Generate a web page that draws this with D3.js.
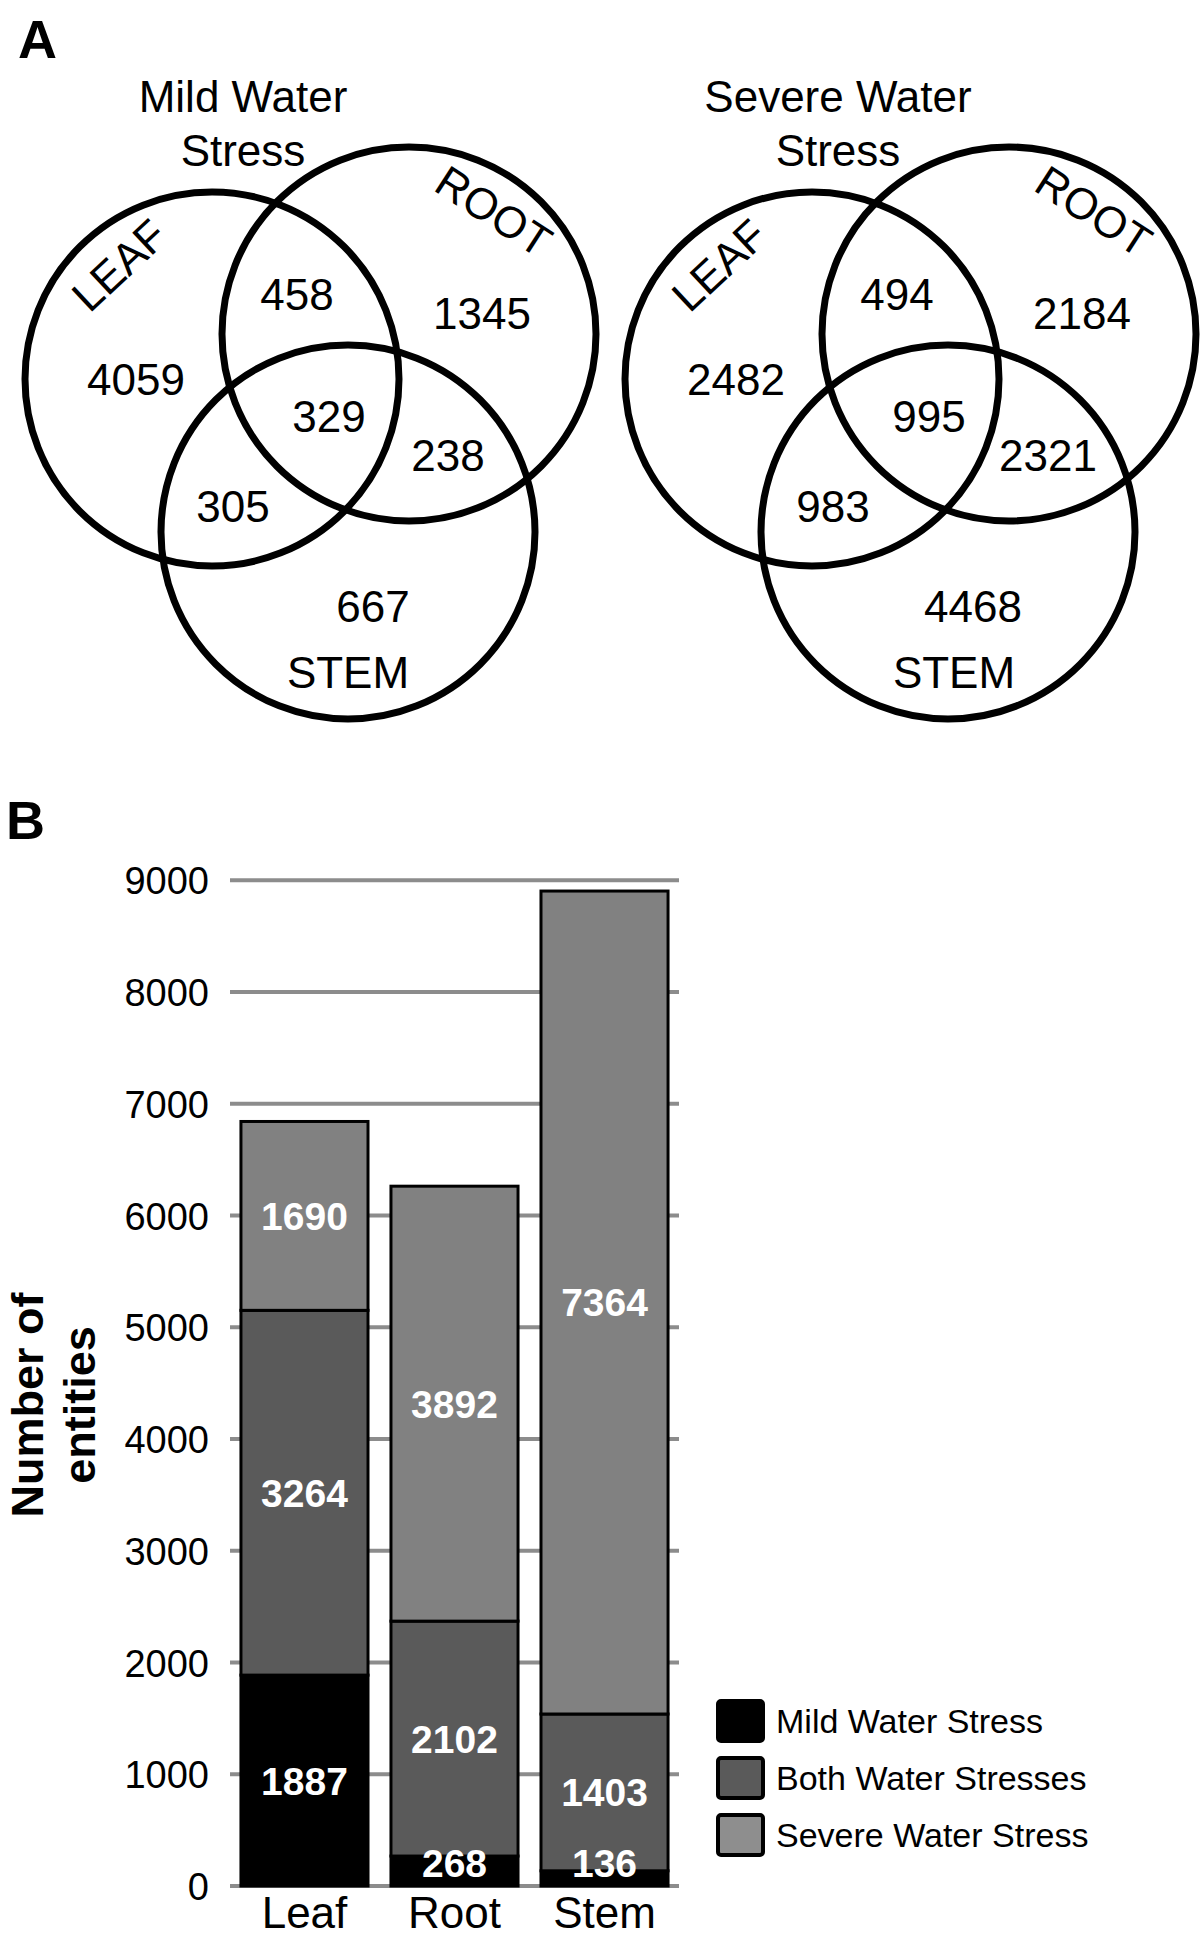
<!DOCTYPE html>
<html>
<head>
<meta charset="utf-8">
<script src="https://cdn.jsdelivr.net/npm/d3@7/dist/d3.min.js"></script>
<style>
  html, body { margin: 0; padding: 0; background: #fff; }
  svg { display: block; font-family: "Liberation Sans", Arial, Helvetica, sans-serif; }
</style>
</head>
<body>
<svg id="chart" width="1200" height="1939"></svg>
<script>
// ---------------- DATA ----------------
const vennTitles = [["Mild Water", "Stress"], ["Severe Water", "Stress"]];
const vennSetLabels = ["LEAF", "ROOT", "STEM"];
const vennRegions = ["Leaf only", "Leaf & Root", "Root only", "All three", "Root & Stem", "Leaf & Stem", "Stem only"];
const mildCounts = [4059, 458, 1345, 329, 238, 305, 667];
const severeCounts = [2482, 494, 2184, 995, 2321, 983, 4468];

const tissues = ["Leaf", "Root", "Stem"];
const seriesNames = ["Mild Water Stress", "Both Water Stresses", "Severe Water Stress"];
const mildOnly = [1887, 268, 136];
const bothStresses = [3264, 2102, 1403];
const severeOnly = [1690, 3892, 7364];
const yTicks = [0, 1000, 2000, 3000, 4000, 5000, 6000, 7000, 8000, 9000];

// ---------------- LAYOUT ----------------
const svg = d3.select("#chart");
const FONT = '"Liberation Sans", Arial, Helvetica, sans-serif';

// Panel letters
svg.append("text").attr("x", 18).attr("y", 58).attr("font-size", 54).attr("font-weight", "bold").text("A");
svg.append("text").attr("x", 6).attr("y", 839).attr("font-size", 54).attr("font-weight", "bold").text("B");

// ---------------- VENN DIAGRAMS ----------------
const circleLayout = [ {cx: 212, cy: 379}, {cx: 409, cy: 334}, {cx: 348, cy: 532} ];
const R = 187;
const regionPos = [
  [136, 379], [297, 294], [482, 313], [329, 416], [448, 455], [233, 506], [373, 606]
];
const panels = [
  {dx: 0, counts: mildCounts, title: vennTitles[0], titleX: 243, stemX: 348},
  {dx: 600, counts: severeCounts, title: vennTitles[1], titleX: 238, stemX: 354}
];

panels.forEach(p => {
  const g = svg.append("g").attr("transform", `translate(${p.dx},0)`);
  p.title.forEach((line, i) => {
    g.append("text").attr("x", p.titleX).attr("y", 112 + i * 54)
      .attr("text-anchor", "middle").attr("font-size", 44).text(line);
  });
  g.selectAll("circle").data(circleLayout).join("circle")
    .attr("cx", d => d.cx).attr("cy", d => d.cy).attr("r", R)
    .attr("fill", "none").attr("stroke", "#000").attr("stroke-width", 7);
  g.selectAll("text.count").data(p.counts).join("text").attr("class", "count")
    .attr("x", (d, i) => regionPos[i][0]).attr("y", (d, i) => regionPos[i][1])
    .attr("dy", "0.358em").attr("text-anchor", "middle").attr("font-size", 44)
    .text(d => d);
  g.append("text").attr("transform", "translate(119,265) rotate(-43)")
    .attr("dy", "0.358em").attr("text-anchor", "middle").attr("font-size", 44).text(vennSetLabels[0]);
  g.append("text").attr("transform", "translate(494,211) rotate(33)")
    .attr("dy", "0.358em").attr("text-anchor", "middle").attr("font-size", 44).text(vennSetLabels[1]);
  g.append("text").attr("x", p.stemX).attr("y", 672).attr("dy", "0.358em")
    .attr("text-anchor", "middle").attr("font-size", 44).text(vennSetLabels[2]);
});

// ---------------- STACKED BAR CHART ----------------
const x = d3.scaleBand().domain(tissues).range([230, 679]).paddingInner(0.153).paddingOuter(0.073);
const y = d3.scaleLinear().domain([0, 9000]).range([1886, 880.2]);

const barColors = ["#000000", "#5a5a5a", "#818181"];
const legendColors = ["#000000", "#5a5a5a", "#8e8e8e"];

// gridlines
svg.append("g").selectAll("line").data(yTicks).join("line")
  .attr("x1", 230).attr("x2", 679)
  .attr("y1", d => y(d)).attr("y2", d => y(d))
  .attr("stroke", "#8c8c8c").attr("stroke-width", 4);

// y axis labels
const yAxis = d3.axisLeft(y).tickValues(yTicks).tickSize(0).tickPadding(0).tickFormat(d3.format("d"));
const yg = svg.append("g").attr("transform", "translate(209,0)").call(yAxis);
yg.select(".domain").remove();
yg.selectAll("text").attr("font-size", 38).attr("font-family", FONT).attr("fill", "#000")
  .attr("dy", "0.358em");

// stack
const rows = tissues.map((t, i) => ({tissue: t, mild: mildOnly[i], both: bothStresses[i], severe: severeOnly[i]}));
const keys = ["mild", "both", "severe"];
const stacked = d3.stack().keys(keys)(rows);

const layers = svg.append("g").selectAll("g").data(stacked).join("g")
  .attr("fill", (d, i) => barColors[i]);
layers.selectAll("rect").data(d => d).join("rect")
  .attr("x", d => x(d.data.tissue))
  .attr("width", x.bandwidth())
  .attr("y", d => y(d[1]))
  .attr("height", d => y(d[0]) - y(d[1]))
  .attr("stroke", "#000").attr("stroke-width", 3);

// value labels
const labelG = svg.append("g");
stacked.forEach((layer, li) => {
  layer.forEach(d => {
    const mid = (d[0] + d[1]) / 2;
    const cy = Math.min(y(mid), y(0) - 23);
    labelG.append("text")
      .attr("x", x(d.data.tissue) + x.bandwidth() / 2)
      .attr("y", cy).attr("dy", "0.358em")
      .attr("text-anchor", "middle").attr("font-size", 39).attr("font-weight", "bold")
      .attr("fill", "#fff").text(d.data[keys[li]]);
  });
});

// x axis labels
const xAxis = d3.axisBottom(x).tickSize(0).tickPadding(0);
const xg = svg.append("g").attr("transform", "translate(0,1886)").call(xAxis);
xg.select(".domain").remove();
xg.selectAll("text").attr("font-size", 44).attr("font-family", FONT).attr("fill", "#000")
  .attr("dy", null).attr("y", 42);

// y title
const yt = svg.append("text").attr("transform", "translate(43,1405) rotate(-90)")
  .attr("text-anchor", "middle").attr("font-size", 45).attr("font-weight", "bold");
yt.append("tspan").attr("x", 0).attr("y", 0).text("Number of");
yt.append("tspan").attr("x", 0).attr("y", 52).text("entities");

// legend
const lg = svg.append("g").selectAll("g").data(seriesNames).join("g")
  .attr("transform", (d, i) => `translate(718,${1701 + i * 57})`);
lg.append("rect").attr("width", 45).attr("height", 40).attr("rx", 3)
  .attr("fill", (d, i) => legendColors[i]).attr("stroke", "#000").attr("stroke-width", 4);
lg.append("text").attr("x", 58).attr("y", 20).attr("dy", "0.358em")
  .attr("font-size", 34).text(d => d);
</script>
</body>
</html>
